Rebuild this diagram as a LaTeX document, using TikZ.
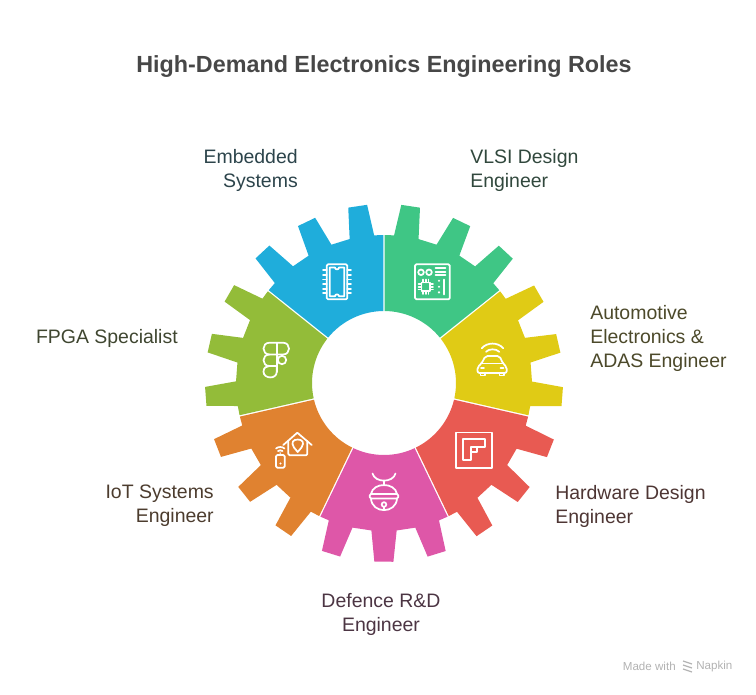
\documentclass[tikz,border=0pt]{standalone}
\usepackage{fontspec}
\setmainfont{Liberation Sans}
\definecolor{sectorgreen}{HTML}{3FC685}
\definecolor{sectoryellow}{HTML}{E0CB15}
\definecolor{sectorred}{HTML}{E85A52}
\definecolor{sectorpink}{HTML}{DE57A8}
\definecolor{sectororange}{HTML}{E08230}
\definecolor{sectorlime}{HTML}{93BC39}
\definecolor{sectorblue}{HTML}{1FADDB}
\tikzset{
	rolelabel/.style={font=\fontsize{14.6}{18}\selectfont, inner sep=0pt},
	iconline/.style={draw=white, line width=1.3pt, line join=round, line cap=round},
}

\begin{document}
\begin{tikzpicture}[x=0.75pt, y=-0.75pt]
		\useasboundingbox (0, 0) rectangle (756, 694);

		% gear sectors
		\begin{scope}[shift={(384, 383)}]
			\foreach \sectorcol [count=\i from 0] in {sectorgreen, sectoryellow, sectorred, sectorpink, sectororange, sectorlime, sectorblue} {
				\fill[\sectorcol, rotate={90-51.43*\i}] (0.56:72) -- (0.27:148) -- (3.9:148) -- (5.55:179) -- (11.6:179) -- (13.5:148) -- (20.8:148) -- (22.7:179) -- (28.8:179) -- (30.6:148) -- (38:148) -- (39.9:179) -- (46:179) -- (47.6:148) -- (51.16:148) -- (50.87:72) arc[start angle=50.87, end angle=0.56, radius=72] -- cycle;
			}
		\end{scope}

		% chip
		\draw[iconline, rounded corners=1pt] (326.7, 264.3) rectangle (347.3, 299.3);
		\draw[iconline] (329.8, 267.5) -- (335, 267.5) .. controls (335, 270) and (339, 270) .. (339, 267.5) -- (344.2, 267.5) -- (344.2, 296.2) -- (339, 296.2) .. controls (339, 293.7) and (335, 293.7) .. (335, 296.2) -- (329.8, 296.2) -- cycle;
		\foreach \y in {270.3, 274.9, 279.5, 284.1, 288.7, 293.3} {
			\draw[iconline] (323, \y) -- (326.7, \y);
			\draw[iconline] (347.3, \y) -- (351, \y);
		}

		% board
		\draw[iconline, rounded corners=1pt] (415, 264.3) rectangle (449.8, 299.3);
		\draw[iconline] (421, 272.3) circle (2.8);
		\draw[iconline] (429, 272.3) circle (2.8);
		\foreach \y in {268.3, 271.7, 275} {
			\draw[iconline] (435.5, \y) -- (445.5, \y);
		}
		\draw[iconline] (421.5, 282.5) rectangle (430, 291);
		\foreach \s in {0, 2.8, 5.6} {
			\draw[iconline] (418.5, 283.9+\s) -- (421.5, 283.9+\s);
			\draw[iconline] (430, 283.9+\s) -- (433, 283.9+\s);
			\draw[iconline] (422.9+\s, 279.5) -- (422.9+\s, 282.5);
			\draw[iconline] (422.9+\s, 291) -- (422.9+\s, 294);
		}
		\foreach \y in {280.7, 286.7, 292.3} {
			\fill[white] (439, \y) circle (1.2);
		}
		\draw[iconline] (444.3, 279.5) -- (444.3, 294.5);

		% car
		\draw[iconline] (481.7, 348.3) .. controls (487, 342) and (498, 342) .. (503.3, 348.3);
		\draw[iconline] (486, 351.8) .. controls (489, 348.5) and (496, 348.5) .. (499.3, 351.8);
		\draw[iconline, rounded corners=1.5pt] (485.5, 356) -- (499.5, 356) -- (503, 363.5) -- (506.7, 367) -- (506.7, 373) -- (477.5, 373) -- (477.5, 367) -- (481.5, 363.5) -- cycle;
		\draw[iconline] (481.5, 363.5) -- (503, 363.5);
		\draw[iconline] (480.5, 373) -- (480.5, 375.5) -- (485, 375.5) -- (485, 373);
		\draw[iconline] (499.5, 373) -- (499.5, 375.5) -- (504, 375.5) -- (504, 373);
		\draw[iconline] (481, 368.3) -- (484, 368.3);
		\draw[iconline] (500.5, 368.3) -- (503.5, 368.3);

		% logo with lobes
		\draw[iconline] (269.5, 354.5) .. controls (261.5, 354.5) and (261.5, 342.7) .. (269.5, 342.7) -- (283, 342.7) .. controls (291, 342.7) and (291, 354.5) .. (283, 354.5) -- cycle;
		\draw[iconline] (276.7, 342.7) -- (276.7, 372);
		\draw[iconline] (276.7, 366) -- (269.5, 366) .. controls (261.5, 366) and (261.5, 354.5) .. (269.5, 354.5);
		\draw[iconline] (276.7, 366) -- (276.7, 372) .. controls (276.7, 379.5) and (263.5, 379) .. (263.5, 371.7) .. controls (263.5, 367.5) and (266.5, 366) .. (269.5, 366);
		\draw[iconline] (282, 360) circle (4.2);

		% house and phone
		\draw[iconline] (283.3, 445) -- (297.3, 432.7) -- (311.7, 445);
		\draw[iconline, rounded corners=1pt] (288.3, 441) -- (288.3, 455.3) -- (307.3, 455.3) -- (307.3, 441);
		\draw[iconline] (297.7, 452) -- (294, 447.5) .. controls (290.5, 442) and (293.5, 439.5) .. (297.7, 439.5) .. controls (302, 439.5) and (305, 442) .. (301.5, 447.5) -- cycle;
		\draw[iconline, rounded corners=1pt] (276, 455) rectangle (284.7, 467.7);
		\fill[white] (280.5, 463.5) circle (1.2);
		\draw[iconline] (276, 448.5) .. controls (278, 446.5) and (282.5, 446.5) .. (284.5, 448.5);
		\draw[iconline] (278, 451) .. controls (279.3, 450) and (281.2, 450) .. (282.5, 451);
		\fill[white] (280.2, 453) circle (0.8);

		% bell
		\draw[iconline] (372.5, 473.5) .. controls (375, 483) and (393, 483) .. (395.5, 473.5);
		\draw[iconline] (384, 481) -- (384, 485.5);
		\draw[iconline] (371, 494) .. controls (373, 482) and (395, 482) .. (397, 494);
		\draw[iconline, rounded corners=1pt] (369.8, 494) rectangle (398.2, 498.5);
		\draw[iconline] (371, 498.5) .. controls (372, 514) and (396, 514) .. (397, 498.5);
		\draw[iconline] (384, 504.5) circle (2.3);
		\draw[iconline] (384, 506.8) -- (384, 510);

		% framed letter
		\draw[iconline] (456.3, 432.5) rectangle (492, 467.7);
		\draw[iconline] (463.3, 439.3) -- (485.3, 439.3) -- (485.3, 447.3) -- (476.7, 447.3) -- (476.7, 452.3) -- (471, 452.3) -- (471, 460) -- (463.3, 460) -- cycle;
		\draw[iconline] (471, 452.3) -- (471, 447.3) -- (476.7, 447.3);

		% title and labels
		\node[font=\fontsize{17.5}{22}\selectfont\bfseries, text=black!72, inner sep=0pt] (title) at (384, 66.5) {High-Demand Electronics Engineering Roles};

		\node[rolelabel, anchor=east, align=right, text=sectorblue!20!black!85] (embedded) at (298, 170) {Embedded\\Systems};
		\node[rolelabel, anchor=west, align=left, text=sectorgreen!20!black!85] (vlsi) at (470, 170) {VLSI Design\\Engineer};
		\node[rolelabel, anchor=west, align=left, text=sectoryellow!20!black!85] (automotive) at (590, 338) {Automotive\\Electronics \&\\ADAS Engineer};
		\node[rolelabel, anchor=west, align=left, text=sectorred!20!black!85] (hardware) at (555, 506) {Hardware Design\\Engineer};
		\node[rolelabel, align=center, text=sectorpink!20!black!85] (defence) at (381, 614) {Defence R\&D\\Engineer};
		\node[rolelabel, anchor=east, align=right, text=sectororange!20!black!85] (iot) at (214, 506) {IoT Systems\\Engineer};
		\node[rolelabel, anchor=east, text=sectorlime!20!black!85] (fpga) at (178, 338) {FPGA Specialist};

		% watermark
		\node[font=\fontsize{8.7}{10}\selectfont, text=black!30, inner sep=0pt, anchor=east] (madewith) at (676, 666.5) {Made with};
		\node[font=\fontsize{8.7}{10}\selectfont, text=black!30, inner sep=0pt, anchor=west] (napkin) at (696, 666.5) {Napkin};
		\foreach \y in {661, 665, 669} {
			\draw[black!30, line width=0.9pt] (683, \y) -- (692, \y+3);
		}
	\end{tikzpicture}
\end{document}
